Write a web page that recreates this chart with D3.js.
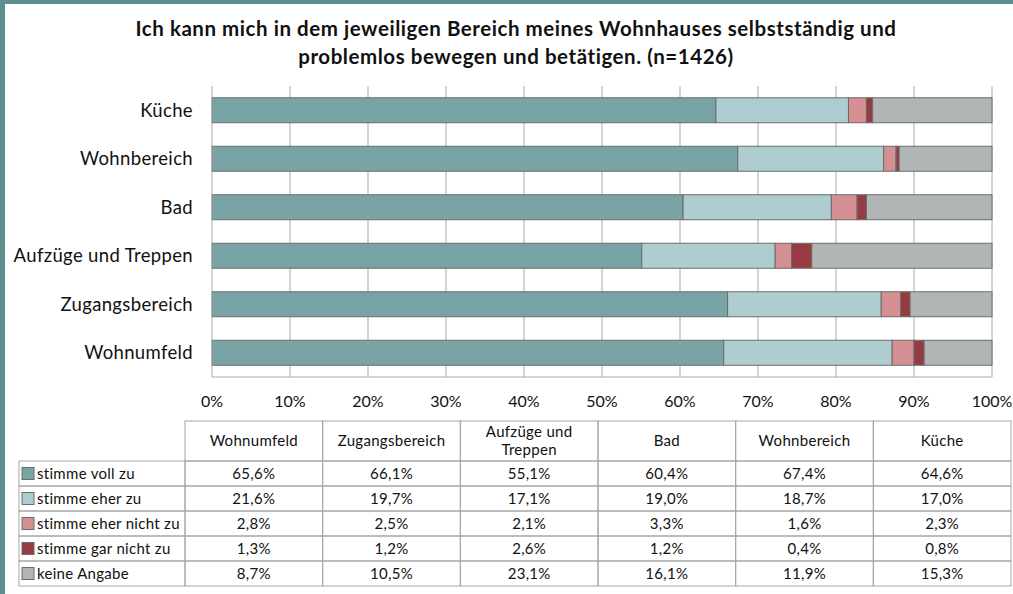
<!DOCTYPE html>
<html>
<head>
<meta charset="utf-8">
<script src="https://cdn.jsdelivr.net/npm/d3@7"></script>
<style>
  body { margin: 0; background: #fff; }
  text { font-family: Lato, "Open Sans", sans-serif; fill: #111; }
</style>
</head>
<body>
<svg id="canvas" width="1013" height="594"></svg>
<script>
// categories top to bottom in the chart
const categories = ["Küche", "Wohnbereich", "Bad", "Aufzüge und Treppen", "Zugangsbereich", "Wohnumfeld"]
// table column order
const tableColumns = ["Wohnumfeld", "Zugangsbereich", "Aufzüge und Treppen", "Bad", "Wohnbereich", "Küche"]

const seriesNames = ["stimme voll zu", "stimme eher zu", "stimme eher nicht zu", "stimme gar nicht zu", "keine Angabe"]
const seriesColors = ["#79a4a5", "#aecdd0", "#d49092", "#953b41", "#b2b5b6"]

// values per series in table column order
const vollZu      = [65.6, 66.1, 55.1, 60.4, 67.4, 64.6]
const eherZu      = [21.6, 19.7, 17.1, 19.0, 18.7, 17.0]
const eherNichtZu = [2.8, 2.5, 2.1, 3.3, 1.6, 2.3]
const garNichtZu  = [1.3, 1.2, 2.6, 1.2, 0.4, 0.8]
const keineAngabe = [8.7, 10.5, 23.1, 16.1, 11.9, 15.3]

const tickValues = [0, 10, 20, 30, 40, 50, 60, 70, 80, 90, 100]

const seriesValues = [vollZu, eherZu, eherNichtZu, garNichtZu, keineAngabe]

let rows = tableColumns.map((c, i) => {
  let row = { name: c }
  seriesNames.forEach((s, j) => { row[s] = seriesValues[j][i] })
  return row
})

let svg = d3.select("#canvas")

// frame
svg.append("rect").attr("x", 0).attr("y", 0).attr("width", 1013).attr("height", 4).attr("fill", "#5f8e90")
svg.append("rect").attr("x", 0).attr("y", 0).attr("width", 5).attr("height", 594).attr("fill", "#5f8e90")

// title
let title = svg.append("text")
  .attr("text-anchor", "middle")
  .style("font-weight", "bold")
  .style("font-size", "20.5px")
  .style("letter-spacing", "0.55px")
title.append("tspan").attr("x", 516).attr("y", 36)
  .text("Ich kann mich in dem jeweiligen Bereich meines Wohnhauses selbstständig und")
title.append("tspan").attr("x", 516).attr("y", 64)
  .text("problemlos bewegen und betätigen. (n=1426)")

const x = d3.scaleLinear().domain([0, 100]).range([212, 992])
const y = d3.scaleBand().domain(categories).range([86, 377]).paddingInner(0.485).paddingOuter(0.2425)

// gridlines
svg.append("g").selectAll("line")
  .data(tickValues.slice(1))
  .enter()
  .append("line")
  .attr("x1", d => x(d)).attr("x2", d => x(d))
  .attr("y1", 86).attr("y2", 377)
  .attr("stroke", "#a9a9a9").attr("stroke-width", 1)

// bars
let stack = d3.stack().keys(seriesNames)(rows)

svg.append("g").selectAll("g")
  .data(stack)
  .enter()
  .append("g")
  .attr("fill", (d, i) => seriesColors[i])
  .selectAll("rect")
  .data(d => d)
  .enter()
  .append("rect")
  .attr("x", d => x(d[0]))
  .attr("y", d => y(d.data.name))
  .attr("width", d => x(Math.min(d[1], 100)) - x(d[0]))
  .attr("height", y.bandwidth())
  .attr("stroke", "#6b6b6b")
  .attr("stroke-width", 1)

// axes lines
svg.append("line").attr("x1", 212).attr("x2", 212).attr("y1", 86).attr("y2", 377)
  .attr("stroke", "#a9a9a9")
svg.append("line").attr("x1", 212).attr("x2", 992).attr("y1", 377).attr("y2", 377)
  .attr("stroke", "#a9a9a9")

// category labels
svg.append("g").selectAll("text")
  .data(categories)
  .enter()
  .append("text")
  .attr("x", 193)
  .attr("y", d => y(d) + y.bandwidth() / 2)
  .attr("dy", "0.35em")
  .attr("text-anchor", "end")
  .style("font-size", "18.5px")
  .style("letter-spacing", "0.35px")
  .text(d => d)

// tick labels
svg.append("g").selectAll("text")
  .data(tickValues)
  .enter()
  .append("text")
  .attr("x", d => x(d))
  .attr("y", 407)
  .attr("text-anchor", "middle")
  .style("font-size", "16px")
  .text(d => d + "%")

// data table
const colX = d3.scaleBand().domain(tableColumns).range([185, 1011])
const rowY = d3.scaleBand().domain(seriesNames).range([461, 586])
const gridColor = "#a6a6a6"

let table = svg.append("g")

// header cells
table.selectAll("rect.head")
  .data(tableColumns)
  .enter()
  .append("rect")
  .attr("class", "head")
  .attr("x", d => colX(d))
  .attr("y", 421)
  .attr("width", colX.bandwidth())
  .attr("height", 40)
  .attr("fill", "none")
  .attr("stroke", gridColor)

// legend cells
table.selectAll("rect.leg")
  .data(seriesNames)
  .enter()
  .append("rect")
  .attr("class", "leg")
  .attr("x", 19)
  .attr("y", d => rowY(d))
  .attr("width", 185 - 19)
  .attr("height", rowY.bandwidth())
  .attr("fill", "none")
  .attr("stroke", gridColor)

// value cells
rows.forEach(r => {
  table.selectAll(null)
    .data(seriesNames)
    .enter()
    .append("rect")
    .attr("x", colX(r.name))
    .attr("y", d => rowY(d))
    .attr("width", colX.bandwidth())
    .attr("height", rowY.bandwidth())
    .attr("fill", "none")
    .attr("stroke", gridColor)

  table.selectAll(null)
    .data(seriesNames)
    .enter()
    .append("text")
    .attr("x", colX(r.name) + colX.bandwidth() / 2)
    .attr("y", d => rowY(d) + rowY.bandwidth() / 2)
    .attr("dy", "0.35em")
    .attr("text-anchor", "middle")
    .style("font-size", "15px")
    .style("letter-spacing", "0.3px")
    .text(d => r[d].toFixed(1).replace(".", ",") + "%")
})

// header labels
table.selectAll("text.head")
  .data(tableColumns)
  .enter()
  .append("text")
  .attr("class", "head")
  .attr("text-anchor", "middle")
  .style("font-size", "15px")
  .style("letter-spacing", "0.3px")
  .each(function (d) {
    let cx = colX(d) + colX.bandwidth() / 2
    let t = d3.select(this)
    if (d == "Aufzüge und Treppen") {
      t.append("tspan").attr("x", cx).attr("y", 437).text("Aufzüge und")
      t.append("tspan").attr("x", cx).attr("y", 455).text("Treppen")
    } else {
      t.append("tspan").attr("x", cx).attr("y", 446).text(d)
    }
  })

// legend swatches and labels
table.selectAll("rect.sw")
  .data(seriesNames)
  .enter()
  .append("rect")
  .attr("class", "sw")
  .attr("x", 22)
  .attr("y", d => rowY(d) + rowY.bandwidth() / 2 - 6)
  .attr("width", 12)
  .attr("height", 12)
  .attr("fill", (d, i) => seriesColors[i])
  .attr("stroke", "#6b6b6b")

table.selectAll("text.leg")
  .data(seriesNames)
  .enter()
  .append("text")
  .attr("class", "leg")
  .attr("x", 37)
  .attr("y", d => rowY(d) + rowY.bandwidth() / 2)
  .attr("dy", "0.35em")
  .style("font-size", "15px")
  .style("letter-spacing", "0.3px")
  .text(d => d)
</script>
</body>
</html>
